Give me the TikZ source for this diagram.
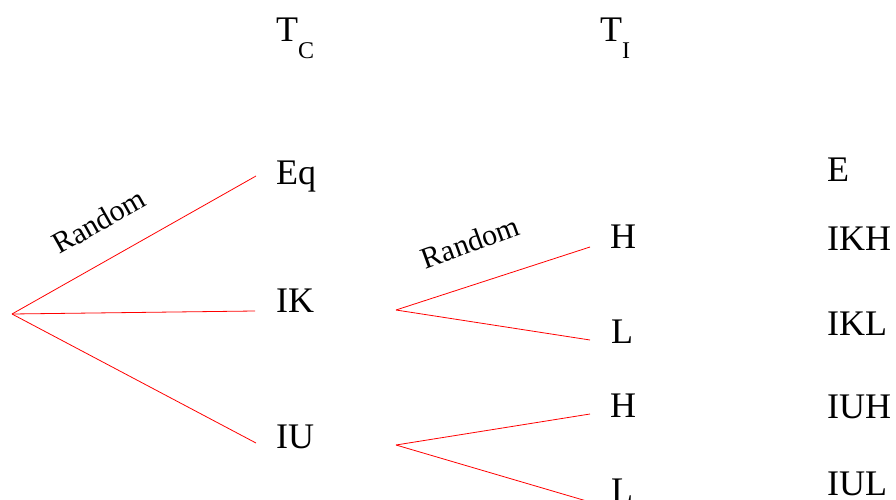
\documentclass[tikz,border=0pt]{standalone}
\usepackage{fontspec}
\setmainfont{Liberation Serif}
\newcommand{\lowidx}[1]{\raisebox{-17pt}{\fontsize{24}{26}\selectfont #1}}

\begin{document}
\begin{tikzpicture}[x=1pt, y=-1pt, every node/.style={font=\fontsize{36}{40}\selectfont, inner sep=0pt, anchor=base west}]
	\tikzset{branch/.style={red, line width=0.8pt}, rndlbl/.style={font=\fontsize{30}{32}\selectfont, anchor=center}}
	\useasboundingbox (0,0) rectangle (896,500);
	% column heads
	\node (tc) at (276,42) {T\lowidx{C}};
	\node (ti) at (600,42) {T\lowidx{I}};
	\node (e) at (827,181) {E};
	% first chance move
	\node (eq) at (276,184) {Eq};
	\node (ik) at (276,312) {IK};
	\node (iu) at (276,448) {IU};
	% second chance moves
	\node (h1) at (610,248) {H};
	\node (l1) at (611,343) {L};
	\node (h2) at (610,417) {H};
	\node (l2) at (611,502) {L};
	% outcomes
	\node (ikh) at (827,250) {IKH};
	\node (ikl) at (827,335) {IKL};
	\node (iuh) at (827,418) {IUH};
	\node (iul) at (827,495) {IUL};
	% branch points and line ends
	\coordinate (root) at (12,314);
	\coordinate (eqin) at (256,176);
	\coordinate (ikin) at (255,311);
	\coordinate (iuin) at (256,443);
	\coordinate (ikout) at (396,310);
	\coordinate (h1in) at (590,247);
	\coordinate (l1in) at (590,340);
	\coordinate (iuout) at (396,445);
	\coordinate (h2in) at (590,414);
	\coordinate (l2in) at (590,502);
	\draw[branch] (root) -- (eqin);
	\draw[branch] (root) -- (ikin);
	\draw[branch] (root) -- (iuin);
	\draw[branch] (ikout) -- (h1in);
	\draw[branch] (ikout) -- (l1in);
	\draw[branch] (iuout) -- (h2in);
	\draw[branch] (iuout) -- (l2in);
	\node[rndlbl, rotate=29.5] (rnd1) at (99,221) {Random};
	\node[rndlbl, rotate=20] (rnd2) at (470,242) {Random};
\end{tikzpicture}
\end{document}
